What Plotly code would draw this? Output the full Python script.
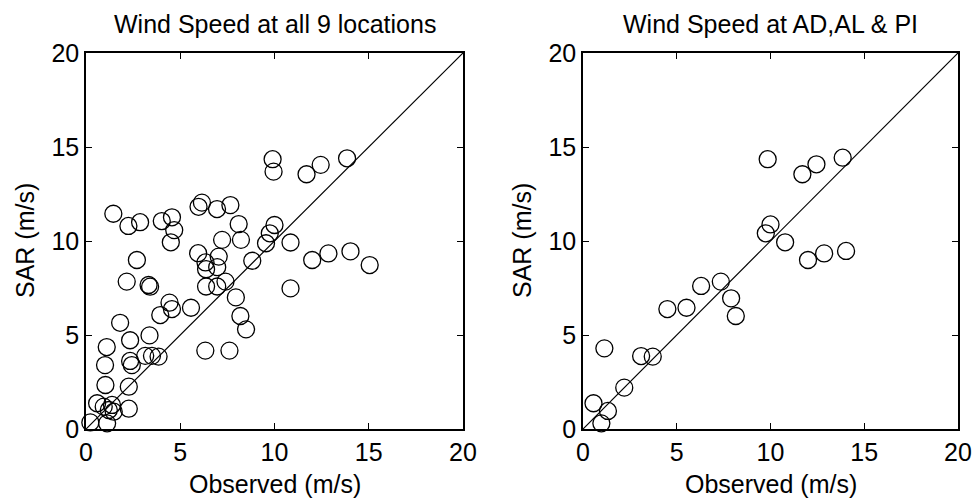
import plotly.graph_objects as go

# Left panel: all 9 locations (Observed, SAR)
all_obs = [1.45, 2.25, 2.87, 4.02, 4.56, 4.68, 4.5, 5.97, 6.15, 6.95, 7.66, 8.1, 7.22, 8.22,
           9.9, 9.95, 11.7, 12.45, 13.85, 10.0, 9.75, 9.55, 10.85, 12.0, 12.86, 14.03, 15.05, 10.85,
           5.95, 2.7, 6.34, 7.04, 6.37, 6.96, 8.82, 2.16, 3.32, 3.4, 6.37, 6.96, 7.4, 7.95,
           4.43, 4.56, 5.57, 3.94, 8.19, 8.49, 1.81, 2.34, 3.37, 1.1, 6.33, 7.61,
           2.34, 2.43, 3.14, 3.5, 3.85, 1.01, 1.03, 2.27, 0.59, 0.94, 1.38, 1.21, 1.47, 2.27,
           0.23, 1.12]
all_sar = [11.45, 10.8, 11.0, 11.06, 11.26, 10.58, 9.93, 11.82, 12.04, 11.7, 11.91, 10.9, 10.06, 10.06,
           14.35, 13.69, 13.55, 14.05, 14.4, 10.85, 10.41, 9.88, 9.92, 8.99, 9.34, 9.45, 8.72, 7.48,
           9.35, 8.99, 8.86, 9.17, 8.5, 8.61, 8.95, 7.84, 7.66, 7.57, 7.58, 7.58, 7.84, 7.0,
           6.72, 6.38, 6.45, 6.06, 6.01, 5.3, 5.65, 4.72, 4.98, 4.36, 4.17, 4.17,
           3.62, 3.4, 3.89, 3.89, 3.85, 3.4, 2.34, 2.25, 1.37, 1.19, 1.28, 1.01, 0.92, 1.08,
           0.35, 0.3]

# Right panel: AD, AL & PI
sub_obs = [9.85, 11.7, 12.45, 13.85, 10.0, 9.75, 10.78, 12.0, 12.86, 14.03,
           7.35, 6.3, 7.9, 4.5, 5.52, 8.15, 1.14, 3.1, 3.72, 2.2, 0.56, 1.33, 0.98]
sub_sar = [14.35, 13.55, 14.08, 14.43, 10.88, 10.41, 9.93, 8.99, 9.34, 9.47,
           7.84, 7.61, 6.95, 6.38, 6.45, 6.01, 4.29, 3.88, 3.85, 2.2, 1.37, 0.96, 0.3]

ticks = [0, 5, 10, 15, 20]
diag = [0, 20]

titles = ["Wind Speed at all 9 locations", "Wind Speed at AD,AL & PI"]
xlabel = "Observed (m/s)"
ylabel = "SAR (m/s)"

FONT = "Liberation Sans, Arial, Helvetica, sans-serif"
FS = 25

fig = go.Figure()
marker = dict(symbol="circle-open", size=17, color="black", line=dict(width=1.3, color="black"))

fig.add_trace(go.Scatter(x=all_obs, y=all_sar, mode="markers", marker=marker,
                         xaxis="x", yaxis="y", showlegend=False, cliponaxis=False))
fig.add_trace(go.Scatter(x=diag, y=diag, mode="lines", line=dict(color="black", width=1.2),
                         xaxis="x", yaxis="y", showlegend=False))
fig.add_trace(go.Scatter(x=sub_obs, y=sub_sar, mode="markers", marker=marker,
                         xaxis="x2", yaxis="y2", showlegend=False, cliponaxis=False))
fig.add_trace(go.Scatter(x=diag, y=diag, mode="lines", line=dict(color="black", width=1.2),
                         xaxis="x2", yaxis="y2", showlegend=False))

ax_common = dict(range=[0, 20], tickvals=ticks, ticks="inside", ticklen=6, tickwidth=1,
                 tickcolor="black", showline=True, linecolor="black", linewidth=1.5,
                 mirror="ticks", showgrid=False, zeroline=False, automargin=False,
                 tickfont=dict(family=FONT, size=FS, color="black"))

ydom = [1 - 429 / 500, 1 - 53 / 500]
fig.update_layout(
    width=977, height=500,
    margin=dict(l=0, r=0, t=0, b=0, autoexpand=False),
    paper_bgcolor="white", plot_bgcolor="white",
    font=dict(family=FONT, color="black"),
    xaxis=dict(domain=[86 / 977, 463 / 977], anchor="y", **ax_common),
    yaxis=dict(domain=ydom, anchor="x", **ax_common),
    xaxis2=dict(domain=[583 / 977, 958 / 977], anchor="y2", **ax_common),
    yaxis2=dict(domain=ydom, anchor="x2", **ax_common),
)

centers = [(86 + 463) / 2 / 977, (583 + 958) / 2 / 977]
lefts = [86 / 977, 583 / 977]
for i in range(2):
    fig.add_annotation(text=titles[i], x=centers[i], y=1 - 24 / 500, xref="paper", yref="paper",
                       showarrow=False, font=dict(family=FONT, size=FS, color="black"),
                       xanchor="center", yanchor="middle")
    fig.add_annotation(text=xlabel, x=centers[i], y=1 - 484 / 500, xref="paper", yref="paper",
                       showarrow=False, font=dict(family=FONT, size=FS, color="black"),
                       xanchor="center", yanchor="middle")
    fig.add_annotation(text=ylabel, x=lefts[i] - 61 / 977, y=1 - 241 / 500, xref="paper", yref="paper",
                       showarrow=False, textangle=-90, font=dict(family=FONT, size=FS, color="black"),
                       xanchor="center", yanchor="middle")

fig.write_html("out.html", config={"displayModeBar": False},
               post_script="document.body.style.margin='0';document.body.style.overflow='hidden';")
